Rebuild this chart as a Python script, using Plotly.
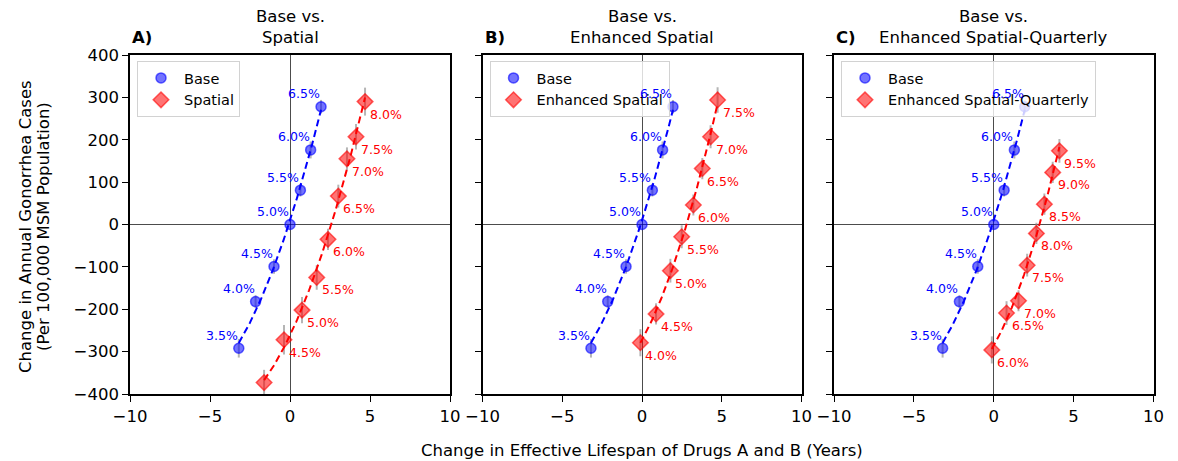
import numpy as np
import plotly.graph_objects as go

# ---------------- data ----------------
base_x = [-3.2, -2.15, -1.0, 0.0, 0.65, 1.29, 1.94]
base_y = [-292, -182, -99, 0, 81, 176, 278]
base_err = [22, 15, 17, 0, 15, 20, 16]
base_labels = ["3.5%", "4.0%", "4.5%", "5.0%", "5.5%", "6.0%", "6.5%"]

spatial_x = [-1.62, -0.375, 0.75, 1.67, 2.375, 3.02, 3.56, 4.125, 4.69]
spatial_y = [-373, -272, -202, -125, -35, 67, 155, 207, 290]
spatial_err = [30, 35, 31, 29, 25, 27, 27, 30, 33]
spatial_labels = ["", "4.5%", "5.0%", "5.5%", "6.0%", "6.5%", "7.0%", "7.5%", "8.0%"]

enh_x = [-0.1, 0.88, 1.78, 2.49, 3.22, 3.78, 4.3, 4.74]
enh_y = [-279, -211, -109, -29, 46, 132, 207, 294]
enh_err = [32, 25, 28, 27, 25, 25, 27, 30]
enh_labels = ["4.0%", "4.5%", "5.0%", "5.5%", "6.0%", "6.5%", "7.0%", "7.5%"]

quart_x = [-0.12, 0.8, 1.55, 2.09, 2.67, 3.17, 3.69, 4.11]
quart_y = [-296, -209, -180, -96, -21, 48, 123, 174]
quart_err = [32, 28, 25, 27, 25, 25, 25, 28]
quart_labels = ["6.0%", "6.5%", "7.0%", "7.5%", "8.0%", "8.5%", "9.0%", "9.5%"]

panel_letters = ["A)", "B)", "C)"]
panel_names = ["Spatial", "Enhanced Spatial", "Enhanced Spatial-Quarterly"]
x_ticks = [-10, -5, 0, 5, 10]

# ---------------- layout helpers ----------------
WIN_W, WIN_H = 1178, 461
OFF = 8                      # default page margin of the html body
W, H = WIN_W - OFF, WIN_H - OFF
FONT = "DejaVu Sans"


def px(v):
    """window pixel x -> paper fraction"""
    return (v - OFF) / W


def py(v):
    """window pixel y -> paper fraction"""
    return 1 - (v - OFF) / H


x_domains_px = [(130, 450), (482.5, 801.5), (834, 1153.5)]
y_domain_px = (55, 394)

BLUE = "rgb(0,0,255)"
RED = "rgb(255,0,0)"

panels = [
    (spatial_x, spatial_y, spatial_err, spatial_labels),
    (enh_x, enh_y, enh_err, enh_labels),
    (quart_x, quart_y, quart_err, quart_labels),
]

fig = go.Figure()
annotations = []
layout = {}

for i, (rx, ry, rerr, rlab) in enumerate(panels):
    suf = "" if i == 0 else str(i + 1)
    xr, yr = "x" + suf, "y" + suf
    leg = "legend" if i == 0 else "legend" + str(i + 1)

    # markers with error bars
    fig.add_trace(go.Scatter(
        x=base_x, y=base_y, mode="markers", name="Base",
        marker=dict(symbol="circle", size=10, color="rgba(0,0,255,0.55)",
                    line=dict(color="rgba(0,0,255,0.6)", width=1.5)),
        error_y=dict(type="data", array=base_err, color="rgba(150,150,150,0.7)",
                     thickness=2, width=0),
        xaxis=xr, yaxis=yr, legend=leg, hoverinfo="skip"))
    fig.add_trace(go.Scatter(
        x=rx, y=ry, mode="markers", name=panel_names[i],
        marker=dict(symbol="diamond", size=12, color="rgba(255,0,0,0.55)",
                    line=dict(color="rgba(255,0,0,0.6)", width=1.5)),
        error_y=dict(type="data", array=rerr, color="rgba(150,150,150,0.7)",
                     thickness=2, width=0),
        xaxis=xr, yaxis=yr, legend=leg, hoverinfo="skip"))

    # quadratic fit dashed lines
    for xs, ys, col in [(base_x, base_y, BLUE), (rx, ry, RED)]:
        c = np.polyfit(xs, ys, 2)
        xx = np.linspace(min(xs), max(xs), 120)
        fig.add_trace(go.Scatter(
            x=xx, y=np.polyval(c, xx), mode="lines",
            line=dict(color=col, width=2, dash="7px,4px"),
            xaxis=xr, yaxis=yr, showlegend=False, hoverinfo="skip"))

    # point labels
    for xv, yv, t in zip(base_x, base_y, base_labels):
        if t:
            annotations.append(dict(x=xv, y=yv, xref=xr, yref=yr, text=t, showarrow=False,
                                    xanchor="right", yanchor="middle", xshift=1, yshift=13,
                                    font=dict(family=FONT, size=12.5, color=BLUE)))
    for xv, yv, t in zip(rx, ry, rlab):
        if t:
            annotations.append(dict(x=xv, y=yv, xref=xr, yref=yr, text=t, showarrow=False,
                                    xanchor="left", yanchor="middle", xshift=3, yshift=-12.5,
                                    font=dict(family=FONT, size=12.5, color=RED)))

    x0, x1 = x_domains_px[i]
    axis_common = dict(
        ticks="outside", ticklen=6, tickwidth=1.3, tickcolor="black",
        showline=True, linecolor="black", linewidth=1.5, mirror=True,
        showgrid=False, zeroline=True, zerolinecolor="rgba(0,0,0,0.7)", zerolinewidth=1,
        tickfont=dict(family=FONT, size=16.5, color="black"), automargin=False,
    )
    layout["xaxis" + suf] = dict(
        domain=[px(x0), px(x1)], range=[-10, 10], tickvals=x_ticks,
        anchor=yr, **axis_common)
    layout["yaxis" + suf] = dict(
        domain=[py(y_domain_px[1]), py(y_domain_px[0])], range=[-400, 400],
        tick0=0, dtick=100, anchor=xr, showticklabels=(i == 0), **axis_common)

    layout[leg] = dict(
        x=px(x0 + 7), y=py(61), xanchor="left", yanchor="top",
        bgcolor="rgba(255,255,255,0.8)", bordercolor="rgb(210,210,210)", borderwidth=1,
        font=dict(family=FONT, size=14.5, color="black"), tracegroupgap=0,
        itemwidth=36)

    cx = (x0 + x1) / 2
    annotations.append(dict(x=px(cx), y=py(17), xref="paper", yref="paper", text="Base vs.",
                            showarrow=False, xanchor="center", yanchor="middle",
                            font=dict(family=FONT, size=16.5, color="black")))
    annotations.append(dict(x=px(cx), y=py(37.5), xref="paper", yref="paper", text=panel_names[i],
                            showarrow=False, xanchor="center", yanchor="middle",
                            font=dict(family=FONT, size=16.5, color="black")))
    annotations.append(dict(x=px(x0), y=py(37.5), xref="paper", yref="paper",
                            text="<b>" + panel_letters[i] + "</b>",
                            showarrow=False, xanchor="left", yanchor="middle",
                            font=dict(family=FONT, size=16.5, color="black")))

# axis titles
annotations.append(dict(x=px(642), y=py(450), xref="paper", yref="paper",
                        text="Change in Effective Lifespan of Drugs A and B (Years)",
                        showarrow=False, xanchor="center", yanchor="middle",
                        font=dict(family=FONT, size=16.5, color="black")))
annotations.append(dict(x=px(25), y=py(227), xref="paper", yref="paper",
                        text="Change in Annual Gonorrhea Cases", textangle=-90,
                        showarrow=False, xanchor="center", yanchor="middle",
                        font=dict(family=FONT, size=16.5, color="black")))
annotations.append(dict(x=px(43), y=py(227), xref="paper", yref="paper",
                        text="(Per 100,000 MSM Population)", textangle=-90,
                        showarrow=False, xanchor="center", yanchor="middle",
                        font=dict(family=FONT, size=16.5, color="black")))

fig.update_layout(
    width=W, height=H, margin=dict(l=0, r=0, t=0, b=0, pad=0, autoexpand=False),
    paper_bgcolor="white", plot_bgcolor="white",
    font=dict(family=FONT, color="black"),
    annotations=annotations, **layout)

fig.write_html("out.html")
